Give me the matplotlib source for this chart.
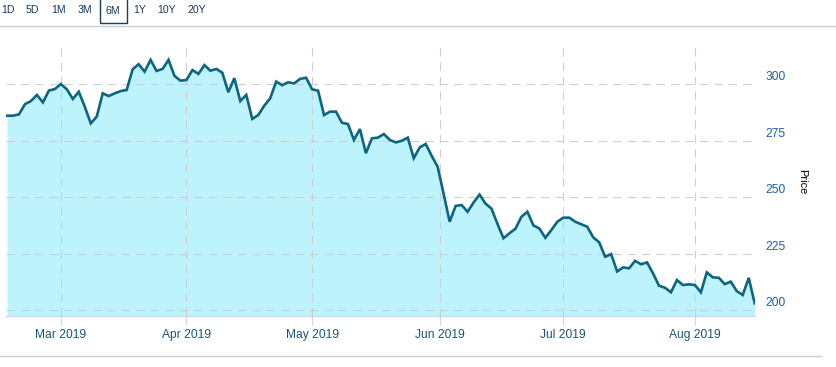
import numpy as np
import pandas as pd
import matplotlib
matplotlib.use("Agg")
import matplotlib.pyplot as plt
import matplotlib.transforms as mtransforms
from matplotlib.lines import Line2D
from matplotlib.patches import Rectangle

plt.rcParams['font.family'] = ['Liberation Sans', 'DejaVu Sans']

# trading days (US market holidays removed)
holidays = ['2019-02-18', '2019-04-19', '2019-05-27', '2019-07-04']
days = pd.bdate_range('2019-02-15', '2019-08-15')
days = days[~days.isin(pd.to_datetime(holidays))]

prices = [
    286.1, 286.1, 286.7, 291.2, 292.6, 295.3, 292.0, 297.2, 297.9, 300.1,
    297.8, 293.5, 296.7, 290.1, 282.7, 285.7, 296.0, 294.8, 296.0, 297.0,
    297.5, 306.6, 308.9, 305.6, 310.8, 305.9, 306.8, 310.8, 303.7, 301.6,
    301.9, 306.3, 304.6, 308.5, 306.0, 306.8, 305.1, 296.5, 302.7, 292.6,
    295.3, 284.7, 286.4, 290.5, 293.8, 301.2, 299.6, 300.9, 300.4, 302.4,
    302.9, 297.8, 297.2, 286.4, 287.9, 287.9, 283.0, 282.4, 275.4, 280.2,
    269.5, 276.1, 276.4, 278.0, 275.4, 274.3, 275.0, 276.4, 267.3, 272.1,
    273.6, 268.3, 263.5, 251.5, 239.2, 246.2, 246.6, 243.6, 247.7, 251.2,
    247.2, 245.0, 238.2, 231.9, 234.1, 236.1, 241.4, 243.6, 237.6, 236.2,
    232.1, 235.5, 239.2, 241.0, 241.0, 239.2, 238.1, 237.0, 232.3, 230.1,
    223.7, 224.9, 217.2, 219.0, 218.6, 221.9, 220.4, 221.2, 216.4, 210.9,
    210.0, 208.0, 213.4, 211.2, 211.5, 211.2, 208.0, 216.8, 214.6, 214.4,
    211.6, 212.7, 208.5, 206.8, 214.4, 203.1,
]

month_starts = pd.date_range('2019-03-01', '2019-08-01', freq='MS')
month_labels = [d.strftime('%b %Y') for d in month_starts]
price_ticks = [200, 225, 250, 275, 300]
ranges = ['1D', '5D', '1M', '3M', '6M', '1Y', '10Y', '20Y']
range_x = [7.5, 32.7, 59, 85, 113, 139.7, 166.5, 196.7]
selected = '6M'

W, H = 836, 367
fig = plt.figure(figsize=(W / 100, H / 100), dpi=100)

def fx(x):
    return x / W

def fy(y):
    return 1 - y / H

# plot area in pixels: x 6..755, y 47..316
ax = fig.add_axes([fx(6), fy(316), (755 - 6) / W, (316 - 47) / H])

x = np.arange(len(prices))
ymin, ymax = 197.5, 316.5
line_col = '#0d6580'
ax.fill_between(x, prices, ymin, color='#bdf3fd', lw=0, zorder=1)
ax.plot(x, prices, color=line_col, lw=1.9, zorder=3, solid_joinstyle='miter')

ax.set_xlim(-0.17, 125.05)
ax.set_ylim(ymin, ymax)

# month ticks on the ordinal (trading day) axis
tick_pos = np.interp(month_starts.values.astype('int64'),
                     days.values.astype('int64'), x)
ax.set_xticks(tick_pos)
ax.set_xticklabels(month_labels)
ax.set_yticks(price_ticks)
ax.set_yticklabels([str(v) for v in price_ticks])

ax.yaxis.tick_right()
ax.tick_params(axis='y', length=0, pad=7.5, labelsize=8.64, labelcolor='#1f5fa8')
ax.tick_params(axis='x', length=6.5, width=0.8, color='#ccd6eb', pad=3,
               labelsize=8.64, labelcolor='#1f5374')

dash = (0, (7.5, 5.5))
ax.grid(True, color='#cfcfcf', lw=0.8, linestyle=dash)
ax.set_axisbelow('line')

for s in ['top', 'left', 'right']:
    ax.spines[s].set_visible(False)
ax.spines['bottom'].set_color('#ccd6eb')
ax.spines['bottom'].set_linewidth(0.9)
ax.set_facecolor('none')

# y labels sit just above their gridline
offset = mtransforms.ScaledTranslation(0, 4 / 100, fig.dpi_scale_trans)
for lab in ax.get_yticklabels():
    lab.set_verticalalignment('baseline')
    lab.set_transform(lab.get_transform() + offset)

fig.text(fx(802), fy(182), 'Price', rotation=270, ha='center', va='center',
         fontsize=7.9, color='black')

# range selector
for name, cx in zip(ranges, range_x):
    cy = 11 if name == selected else 10
    fig.text(fx(cx), fy(cy), name, ha='center', va='center',
             fontsize=7.56, color='#16375a')
fig.patches.append(Rectangle((fx(99.5), fy(23.3)), (126.7 - 99.5) / W, 25 / H,
                             transform=fig.transFigure, fill=False,
                             edgecolor='#1f3d5c', lw=1.0))
fig.lines.append(Line2D([0, 1], [fy(26), fy(26)], transform=fig.transFigure,
                        color='#cccccc', lw=1.0))
fig.lines.append(Line2D([0, fx(821)], [fy(355.6), fy(355.6)],
                        transform=fig.transFigure, color='#cccccc', lw=1.0))

fig.savefig('out.png', dpi=100)
